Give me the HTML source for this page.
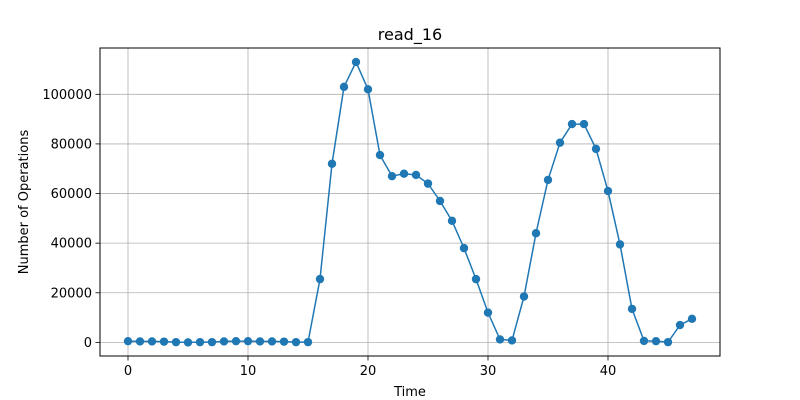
<!DOCTYPE html>
<html><head><meta charset="utf-8"><style>
html,body{margin:0;padding:0;background:#fff;}
svg{display:block;font-family:"DejaVu Sans","Liberation Sans",sans-serif;}
</style></head><body>
<svg id="chart" width="800" height="400" viewBox="0 0 800 400">
<rect x="0" y="0" width="800" height="400" fill="#fff"/>
<text x="410" y="40" font-size="16" text-anchor="middle" fill="#000">read_16</text>
<g id="grid"></g>
<g id="series"></g>
<rect x="100" y="48" width="620" height="308" fill="none" stroke="#000" stroke-width="1"/>
<g id="axes"></g>
<text x="410" y="396" font-size="13" text-anchor="middle">Time</text>
<text x="28" y="202" font-size="13" text-anchor="middle" transform="rotate(-90 28 202)">Number of Operations</text>
</svg>
<script>
const times = Array.from({length:48},(_, i)=>i);
const operations = [500,400,400,300,100,0,100,100,400,500,500,400,400,300,100,100,
25500,72000,103000,113000,102000,75500,67000,68000,67500,64000,57000,49000,38000,25500,12000,1200,800,
18500,44000,65500,80500,88000,88000,78000,61000,39500,13500,600,500,100,7000,9500];
const xTicks = [0,10,20,30,40];
const yTicks = [0,20000,40000,60000,80000,100000];

const NS="http://www.w3.org/2000/svg";
const X0=128, XS=12, Y0=342.4, YS=248.1/100000;
const xScale=v=>X0+v*XS;
const yScale=v=>Y0-v*YS;
function mk(tag,attrs,parent){const e=document.createElementNS(NS,tag);for(const k in attrs)e.setAttribute(k,attrs[k]);parent.appendChild(e);return e;}
const grid=document.getElementById('grid'), axes=document.getElementById('axes'), series=document.getElementById('series');
xTicks.forEach(t=>{
  const x=xScale(t);
  const g=mk('line',{x1:x,x2:x,y1:48,y2:356,stroke:'#b0b0b0','stroke-width':0.8},grid);
  
  
  const tk=mk('line',{x1:x,x2:x,y1:356,y2:360.5,stroke:'#000','stroke-width':0.8},axes);
  
  
  const tx=mk('text',{x:x,y:375,'font-size':13,'text-anchor':'middle'},axes);
  tx.textContent=t;
  
  
});
yTicks.forEach(t=>{
  const y=yScale(t);
  const g=mk('line',{x1:100,x2:720,y1:y,y2:y,stroke:'#b0b0b0','stroke-width':0.8},grid);
  
  
  const tk=mk('line',{x1:95.5,x2:100,y1:y,y2:y,stroke:'#000','stroke-width':0.8},axes);
  
  
  const tx=mk('text',{x:92,y:y+4.5,'font-size':13,'text-anchor':'end'},axes);
  tx.textContent=t;
  
  
});
const pts=times.map((t,i)=>xScale(t)+','+yScale(operations[i])).join(' ');
const line=mk('polyline',{points:pts,fill:'none',stroke:'#1f77b4','stroke-width':1.5},series);


times.forEach((t,i)=>{
  const c=mk('circle',{cx:xScale(t),cy:yScale(operations[i]),r:4.2,fill:'#1f77b4'},series);
  
  
});
</script>
</body></html>
